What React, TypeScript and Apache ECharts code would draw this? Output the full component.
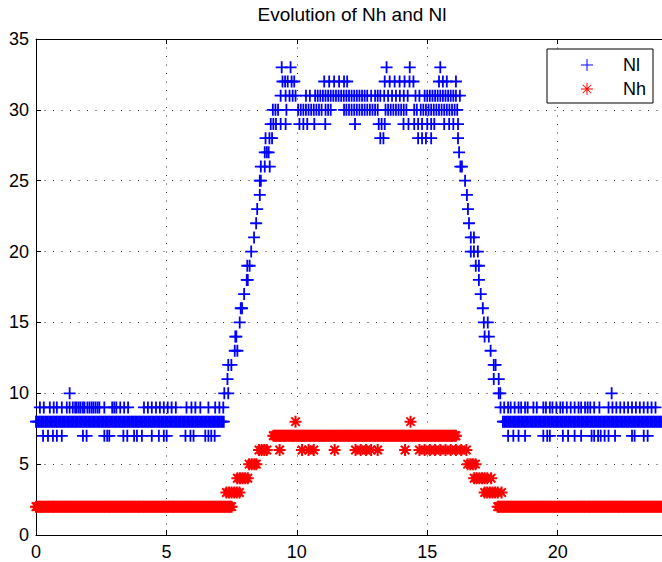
import React, { useEffect, useRef } from "react";
import * as echarts from "echarts";

// ---------- axes ----------
const xTicks = [0, 5, 10, 15, 20];
const xMax = 24;
const yTicks = [0, 5, 10, 15, 20, 25, 30, 35];

const titleText = "Evolution of Nh and Nl";
const seriesNames = ["Nl", "Nh"];

// ---------- Nl (blue "+"): times (s) at which each level is observed ----------
const nlLevel7 = [
  0.27, 0.46, 0.65, 0.8, 0.99, 1.8, 1.94, 2.62, 2.73, 2.81, 3.35, 3.5, 3.76, 3.87, 4.06, 4.44, 4.71, 4.9,
  5.01, 5.73, 5.92, 6.04, 6.49, 6.61, 6.72, 6.85,
  18.1, 18.3, 18.5, 18.75, 19.45, 19.6, 19.7, 20.2, 20.4, 20.65, 20.9, 21.3, 21.4, 21.55, 21.65, 21.8,
  21.95, 22.2, 22.85, 22.95, 23.3, 23.45,
];
const nlLevel8 = [
  0, 0.05, 0.1, 0.15, 0.2, 0.25, 0.3, 0.35, 0.4, 0.45, 0.5, 0.55, 0.6, 0.65, 0.7, 0.75, 0.8, 0.85, 0.9,
  0.95, 1, 1.05, 1.1, 1.15, 1.2, 1.25, 1.3, 1.35, 1.4, 1.45, 1.5, 1.55, 1.6, 1.65, 1.7, 1.75, 1.8, 1.85,
  1.9, 1.95, 2, 2.05, 2.1, 2.15, 2.2, 2.25, 2.3, 2.35, 2.4, 2.45, 2.5, 2.55, 2.6, 2.65, 2.7, 2.75, 2.8,
  2.85, 2.9, 2.95, 3, 3.05, 3.1, 3.15, 3.2, 3.25, 3.3, 3.35, 3.4, 3.45, 3.5, 3.55, 3.6, 3.65, 3.7, 3.75,
  3.8, 3.85, 3.9, 3.95, 4, 4.05, 4.1, 4.15, 4.2, 4.25, 4.3, 4.35, 4.4, 4.45, 4.5, 4.55, 4.6, 4.65, 4.7,
  4.75, 4.8, 4.85, 4.9, 4.95, 5, 5.05, 5.1, 5.15, 5.2, 5.25, 5.3, 5.35, 5.4, 5.45, 5.5, 5.55, 5.6, 5.65,
  5.7, 5.75, 5.8, 5.85, 5.9, 5.95, 6, 6.05, 6.1, 6.15, 6.2, 6.25, 6.3, 6.35, 6.4, 6.45, 6.5, 6.55, 6.6,
  6.65, 6.7, 6.75, 6.8, 6.85, 6.9, 6.95, 7, 7.05, 7.1, 7.15, 7.2,
  17.9, 17.95, 18, 18.05, 18.1, 18.15, 18.2, 18.25, 18.3, 18.35, 18.4, 18.45, 18.5, 18.55, 18.6, 18.65,
  18.7, 18.75, 18.8, 18.85, 18.9, 18.95, 19, 19.05, 19.1, 19.15, 19.2, 19.25, 19.3, 19.35, 19.4, 19.45,
  19.5, 19.55, 19.6, 19.65, 19.7, 19.75, 19.8, 19.85, 19.9, 19.95, 20, 20.05, 20.1, 20.15, 20.2, 20.25,
  20.3, 20.35, 20.4, 20.45, 20.5, 20.55, 20.6, 20.65, 20.7, 20.75, 20.8, 20.85, 20.9, 20.95, 21, 21.05,
  21.1, 21.15, 21.2, 21.25, 21.3, 21.35, 21.4, 21.45, 21.5, 21.55, 21.6, 21.65, 21.7, 21.75, 21.8, 21.85,
  21.9, 21.95, 22, 22.05, 22.1, 22.15, 22.2, 22.25, 22.3, 22.35, 22.4, 22.45, 22.5, 22.55, 22.6, 22.65,
  22.7, 22.75, 22.8, 22.85, 22.9, 22.95, 23, 23.05, 23.1, 23.15, 23.2, 23.25, 23.3, 23.35, 23.4, 23.45,
  23.5, 23.55, 23.6, 23.65, 23.7, 23.75, 23.8, 23.85, 23.9, 23.95, 24,
];
const nlLevel9 = [
  0.15, 0.3, 0.53, 0.68, 0.8, 0.99, 1.18, 1.29, 1.41, 1.5, 1.56, 1.64, 1.71, 1.8, 1.86, 1.97, 2.05, 2.13,
  2.2, 2.28, 2.36, 2.43, 2.62, 2.92, 3.0, 3.08, 3.23, 3.38, 3.53, 4.14, 4.29, 4.44, 4.6, 4.75, 4.9, 5.05,
  5.2, 5.36, 5.77, 5.96, 6.11, 6.3, 6.61, 6.87, 7.03, 7.18,
  17.81, 17.95, 18.1, 18.2, 18.35, 18.5, 18.6, 18.75, 18.85, 19.07, 19.2, 19.45, 19.55, 19.7, 19.8, 19.95,
  20.1, 20.2, 20.35, 20.5, 20.65, 20.8, 20.9, 21.05, 21.15, 21.25, 21.4, 21.6, 21.95, 22.1, 22.25, 22.4,
  22.55, 22.7, 22.85, 23.0, 23.15, 23.3, 23.45, 23.6, 23.75,
];
const nlLevel10 = [1.29, 7.22, 7.37, 17.74, 17.8, 22.07];
const nlRise = [
  [7.34, 11], [7.37, 12], [7.49, 12], [7.62, 13], [7.72, 13], [7.64, 14], [7.68, 14], [7.81, 15],
  [7.85, 16], [7.9, 16], [7.98, 17], [8.08, 18], [8.12, 18], [8.1, 19], [8.19, 19], [8.25, 20],
  [8.36, 21], [8.44, 22], [8.48, 23], [8.58, 24], [8.58, 25], [8.62, 25], [8.62, 26], [8.77, 26],
  [8.96, 26],
];
const nlFall = [
  [16.27, 26], [16.33, 26], [16.45, 25], [16.52, 24], [16.56, 23], [16.6, 22], [16.67, 21], [16.79, 21],
  [16.67, 20], [16.79, 20], [16.94, 20], [16.86, 19], [16.98, 19], [16.98, 18], [17.05, 17], [17.13, 16],
  [17.17, 15], [17.32, 15], [17.2, 14], [17.36, 14], [17.43, 13], [17.55, 12], [17.62, 12], [17.55, 11],
  [17.74, 11],
];
const nlLevel27 = [8.77, 8.85, 8.92, 16.22];
const nlLevel28 = [8.8, 8.95, 9.05, 13.2, 13.32, 14.65, 14.8, 14.95, 15.15, 16.18];
const nlLevel29 = [
  9.0, 9.1, 9.2, 9.38, 9.57, 10.1, 10.25, 10.4, 10.67, 11.09, 12.23, 13.14, 13.25, 13.37, 14.09, 14.28,
  14.5, 14.65, 14.8, 15.0, 15.15, 15.27, 15.65, 15.84, 16.0, 16.18,
];
const nlLevel30 = [
  9.08, 9.18, 9.28, 9.6, 10.05, 10.15, 10.25, 10.35, 10.45, 10.55, 10.65, 10.75, 10.85, 10.95, 11.1, 11.2,
  11.3, 11.81, 11.9, 12.0, 12.1, 12.2, 12.3, 12.4, 12.5, 12.6, 12.7, 12.8, 12.9, 13.0, 13.1, 13.4, 13.5,
  13.6, 13.7, 13.8, 13.9, 14.0, 14.1, 14.2, 14.5, 14.6, 14.75, 14.85, 14.95, 15.05, 15.15, 15.25, 15.35,
  15.45, 15.55, 15.65, 15.75, 15.85, 15.95, 16.05, 16.15,
];
const nlLevel31 = [
  9.38, 9.57, 9.72, 9.84, 9.95, 10.35, 10.5, 10.7, 10.8, 10.9, 11.0, 11.1, 11.2, 11.3, 11.4, 11.5, 11.6,
  11.7, 11.8, 11.9, 12.0, 12.1, 12.2, 12.3, 12.4, 12.5, 12.6, 12.7, 12.85, 13.0, 13.1, 13.2, 13.35, 13.5,
  13.65, 13.8, 13.95, 14.1, 14.25, 14.55, 14.7, 14.9, 15.0, 15.1, 15.2, 15.3, 15.4, 15.5, 15.6, 15.7, 15.8,
  15.9, 16.0, 16.1, 16.25,
];
const nlLevel32 = [
  9.45, 9.55, 9.65, 9.8, 9.9, 11.05, 11.24, 11.43, 11.62, 11.81, 11.93, 13.37, 13.56, 13.75, 13.94, 14.13,
  14.32, 14.47, 15.45, 15.6, 15.75, 16.1,
];
const nlLevel33 = [9.42, 9.76, 13.44, 14.33, 15.5];

// ---------- Nh (red "*") ----------
const nhLevel2 = [
  0, 0.05, 0.1, 0.15, 0.2, 0.25, 0.3, 0.35, 0.4, 0.45, 0.5, 0.55, 0.6, 0.65, 0.7, 0.75, 0.8, 0.85, 0.9,
  0.95, 1, 1.05, 1.1, 1.15, 1.2, 1.25, 1.3, 1.35, 1.4, 1.45, 1.5, 1.55, 1.6, 1.65, 1.7, 1.75, 1.8, 1.85,
  1.9, 1.95, 2, 2.05, 2.1, 2.15, 2.2, 2.25, 2.3, 2.35, 2.4, 2.45, 2.5, 2.55, 2.6, 2.65, 2.7, 2.75, 2.8,
  2.85, 2.9, 2.95, 3, 3.05, 3.1, 3.15, 3.2, 3.25, 3.3, 3.35, 3.4, 3.45, 3.5, 3.55, 3.6, 3.65, 3.7, 3.75,
  3.8, 3.85, 3.9, 3.95, 4, 4.05, 4.1, 4.15, 4.2, 4.25, 4.3, 4.35, 4.4, 4.45, 4.5, 4.55, 4.6, 4.65, 4.7,
  4.75, 4.8, 4.85, 4.9, 4.95, 5, 5.05, 5.1, 5.15, 5.2, 5.25, 5.3, 5.35, 5.4, 5.45, 5.5, 5.55, 5.6, 5.65,
  5.7, 5.75, 5.8, 5.85, 5.9, 5.95, 6, 6.05, 6.1, 6.15, 6.2, 6.25, 6.3, 6.35, 6.4, 6.45, 6.5, 6.55, 6.6,
  6.65, 6.7, 6.75, 6.8, 6.85, 6.9, 6.95, 7, 7.05, 7.1, 7.15, 7.2, 7.25, 7.3, 7.35, 7.4, 7.45, 7.5,
  17.7, 17.75, 17.8, 17.85, 17.9, 17.95, 18, 18.05, 18.1, 18.15, 18.2, 18.25, 18.3, 18.35, 18.4, 18.45,
  18.5, 18.55, 18.6, 18.65, 18.7, 18.75, 18.8, 18.85, 18.9, 18.95, 19, 19.05, 19.1, 19.15, 19.2, 19.25,
  19.3, 19.35, 19.4, 19.45, 19.5, 19.55, 19.6, 19.65, 19.7, 19.75, 19.8, 19.85, 19.9, 19.95, 20, 20.05,
  20.1, 20.15, 20.2, 20.25, 20.3, 20.35, 20.4, 20.45, 20.5, 20.55, 20.6, 20.65, 20.7, 20.75, 20.8, 20.85,
  20.9, 20.95, 21, 21.05, 21.1, 21.15, 21.2, 21.25, 21.3, 21.35, 21.4, 21.45, 21.5, 21.55, 21.6, 21.65,
  21.7, 21.75, 21.8, 21.85, 21.9, 21.95, 22, 22.05, 22.1, 22.15, 22.2, 22.25, 22.3, 22.35, 22.4, 22.45,
  22.5, 22.55, 22.6, 22.65, 22.7, 22.75, 22.8, 22.85, 22.9, 22.95, 23, 23.05, 23.1, 23.15, 23.2, 23.25,
  23.3, 23.35, 23.4, 23.45, 23.5, 23.55, 23.6, 23.65, 23.7, 23.75, 23.8, 23.85, 23.9, 23.95, 24,
];
const nhLevel3 = [7.3, 7.4, 7.5, 7.6, 7.7, 7.8, 17.2, 17.3, 17.4, 17.5, 17.6, 17.7, 17.85];
const nhLevel4 = [7.72, 7.82, 7.92, 8.02, 8.12, 16.8, 16.9, 17.0, 17.1, 17.2, 17.3, 17.45];
const nhLevel5 = [8.17, 8.27, 8.37, 8.45, 16.55, 16.65, 16.75, 16.85];
const nhLevel6 = [
  8.55, 8.65, 8.75, 8.85, 9.34, 10.2, 10.45, 10.65, 11.45, 12.25, 12.45, 12.65, 12.85, 13.1, 14.15, 14.7,
  14.9, 15.1, 15.3, 15.5, 15.7, 15.9, 16.1, 16.3, 16.5,
];
const nhLevel7 = [
  9.1, 9.15, 9.2, 9.25, 9.3, 9.35, 9.4, 9.45, 9.5, 9.55, 9.6, 9.65, 9.7, 9.75, 9.8, 9.85, 9.9, 9.95, 10,
  10.05, 10.1, 10.15, 10.2, 10.25, 10.3, 10.35, 10.4, 10.45, 10.5, 10.55, 10.6, 10.65, 10.7, 10.75, 10.8,
  10.85, 10.9, 10.95, 11, 11.05, 11.1, 11.15, 11.2, 11.25, 11.3, 11.35, 11.4, 11.45, 11.5, 11.55, 11.6,
  11.65, 11.7, 11.75, 11.8, 11.85, 11.9, 11.95, 12, 12.05, 12.1, 12.15, 12.2, 12.25, 12.3, 12.35, 12.4,
  12.45, 12.5, 12.55, 12.6, 12.65, 12.7, 12.75, 12.8, 12.85, 12.9, 12.95, 13, 13.05, 13.1, 13.15, 13.2,
  13.25, 13.3, 13.35, 13.4, 13.45, 13.5, 13.55, 13.6, 13.65, 13.7, 13.75, 13.8, 13.85, 13.9, 13.95, 14,
  14.05, 14.1, 14.15, 14.2, 14.25, 14.3, 14.35, 14.4, 14.45, 14.5, 14.55, 14.6, 14.65, 14.7, 14.75, 14.8,
  14.85, 14.9, 14.95, 15, 15.05, 15.1, 15.15, 15.2, 15.25, 15.3, 15.35, 15.4, 15.45, 15.5, 15.55, 15.6,
  15.65, 15.7, 15.75, 15.8, 15.85, 15.9, 15.95, 16, 16.05, 16.1,
];
const nhLevel8 = [9.95, 14.36];

// ---------- marker shapes (MATLAB "+" and "*") ----------
const PLUS = "path://M5.1 0H6.9V5.1H12V6.9H6.9V12H5.1V6.9H0V5.1H5.1Z";
const STAR =
  "path://M0 5H12V7H0Z M5 0H7V12H5Z " +
  "M2.467 1.053L10.947 9.533L9.533 10.947L1.053 2.467Z " +
  "M10.947 2.467L2.467 10.947L1.053 9.533L9.533 1.053Z";
const PLUS_THIN = "path://M5.5 0H6.5V5.5H12V6.5H6.5V12H5.5V6.5H0V5.5H5.5Z";
const STAR_THIN =
  "path://M0 5.5H12V6.5H0Z M5.5 0H6.5V12H5.5Z " +
  "M2.114 1.406L10.594 9.886L9.886 10.594L1.406 2.114Z " +
  "M10.594 2.114L2.114 10.594L1.406 9.886L9.886 1.406Z";

const FONT = "'Liberation Sans', Arial, Helvetica, sans-serif";

const toPoints = (level: number, times: number[]) => times.map((t) => [t, level]);

const nlData = [
  ...toPoints(7, nlLevel7),
  ...toPoints(8, nlLevel8),
  ...toPoints(9, nlLevel9),
  ...toPoints(10, nlLevel10),
  ...nlRise,
  ...nlFall,
  ...toPoints(27, nlLevel27),
  ...toPoints(28, nlLevel28),
  ...toPoints(29, nlLevel29),
  ...toPoints(30, nlLevel30),
  ...toPoints(31, nlLevel31),
  ...toPoints(32, nlLevel32),
  ...toPoints(33, nlLevel33),
];
const nhData = [
  ...toPoints(2, nhLevel2),
  ...toPoints(3, nhLevel3),
  ...toPoints(4, nhLevel4),
  ...toPoints(5, nhLevel5),
  ...toPoints(6, nhLevel6),
  ...toPoints(7, nhLevel7),
  ...toPoints(8, nhLevel8),
];

const gridLine = { show: true, lineStyle: { color: "#333", width: 1, type: [1, 7.5] as any } };
const blackLine = { show: true, onZero: false, lineStyle: { color: "#000", width: 1 } };
const insideTick = { show: true, inside: true, length: 5, lineStyle: { color: "#000", width: 1 } };

function buildOption(): any {
  const xInterval = xTicks[1] - xTicks[0];
  const yInterval = yTicks[1] - yTicks[0];
  return {
    animation: false,
    backgroundColor: "#fff",
    title: {
      text: titleText,
      left: 352,
      top: 5,
      padding: 0,
      textAlign: "center",
      textStyle: { fontSize: 19, fontWeight: "normal", color: "#000", fontFamily: FONT },
    },
    legend: {
      data: [
        { name: seriesNames[0], icon: PLUS_THIN },
        { name: seriesNames[1], icon: STAR_THIN },
      ],
      orient: "vertical",
      left: 547,
      top: 49,
      padding: [6, 7, 4, 34],
      itemWidth: 12,
      itemHeight: 12,
      itemGap: 4,
      backgroundColor: "#fff",
      borderColor: "#000",
      borderWidth: 1,
      borderRadius: 0,
      selectedMode: false,
      textStyle: { fontSize: 18, color: "#000", fontFamily: FONT, lineHeight: 20, padding: [0, 0, 0, 25] },
    },
    grid: { left: 36, top: 39, width: 632, height: 496, containLabel: false },
    xAxis: [
      {
        type: "value",
        position: "bottom",
        min: xTicks[0],
        max: xMax,
        interval: xInterval,
        axisLine: blackLine,
        axisTick: insideTick,
        axisLabel: { color: "#000", fontSize: 18, fontFamily: FONT, margin: 8, showMaxLabel: false },
        splitLine: gridLine,
      },
      {
        type: "value",
        position: "top",
        min: xTicks[0],
        max: xMax,
        interval: xInterval,
        axisLine: blackLine,
        axisTick: insideTick,
        axisLabel: { show: false },
        splitLine: { show: false },
      },
    ],
    yAxis: [
      {
        type: "value",
        position: "left",
        min: yTicks[0],
        max: yTicks[yTicks.length - 1],
        interval: yInterval,
        axisLine: blackLine,
        axisTick: insideTick,
        axisLabel: { color: "#000", fontSize: 18, fontFamily: FONT, margin: 7 },
        splitLine: gridLine,
      },
    ],
    series: [
      {
        name: seriesNames[0],
        type: "scatter",
        data: nlData,
        symbol: PLUS,
        symbolSize: 12,
        clip: false,
        itemStyle: { color: "#0000ff", opacity: 1 },
        emphasis: { disabled: true },
        z: 3,
      },
      {
        name: seriesNames[1],
        type: "scatter",
        data: nhData,
        symbol: STAR,
        symbolSize: 12,
        clip: false,
        itemStyle: { color: "#ff0000", opacity: 1 },
        emphasis: { disabled: true },
        z: 4,
      },
    ],
  };
}

export default function App() {
  const ref = useRef<HTMLDivElement>(null);
  useEffect(() => {
    if (!ref.current) return;
    const chart = echarts.init(ref.current, undefined, { renderer: "svg" });
    chart.setOption(buildOption());
    return () => chart.dispose();
  }, []);
  return (
    <div
      ref={ref}
      style={{ position: "fixed", left: 0, top: 0, width: 662, height: 562, background: "#fff" }}
    />
  );
}
